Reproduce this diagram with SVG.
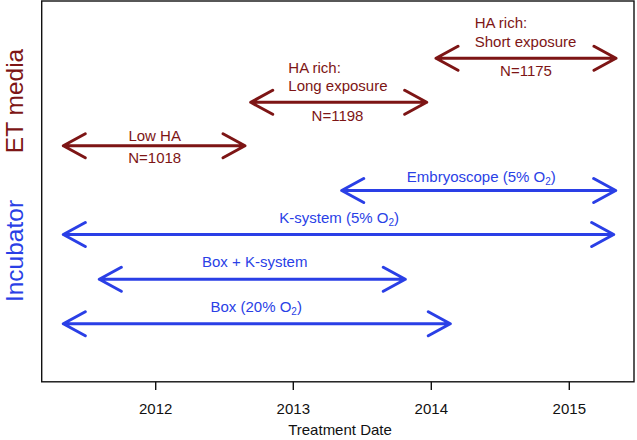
<svg xmlns="http://www.w3.org/2000/svg" width="637" height="440" viewBox="0 0 637 440">
<style>
text{font-family:"Liberation Sans",Arial,sans-serif;font-size:15px}
.r{fill:#7d1515}
.b{fill:#2a3fe6}
.ar{fill:none;stroke-width:3;stroke-linecap:round;stroke-linejoin:round}
.ar.r{stroke:#7d1515;fill:none}
.ar.b{stroke:#2a3fe6;fill:none}
.ax{fill:none;stroke:#111;stroke-width:1.4}
.tk{fill:#111;text-anchor:middle}
.lab{font-size:24.5px}
.sub{font-size:10px}
</style>
<rect width="637" height="440" fill="#fff"/>
<g id="axes">
<rect class="ax" x="41.7" y="1" width="592.3" height="380.8"/>
<path class="ax" d="M155.7,381.8V390M293.3,381.8V390M431.3,381.8V390M569.3,381.8V390"/>
<text class="tk" x="155.7" y="413.5">2012</text>
<text class="tk" x="293.3" y="413.5">2013</text>
<text class="tk" x="431.3" y="413.5">2014</text>
<text class="tk" x="569.3" y="413.5">2015</text>
<text class="tk" x="340" y="434.5">Treatment Date</text>
<text class="lab r" text-anchor="middle" transform="translate(22.5,101) rotate(-90)">ET media</text>
<text class="lab b" text-anchor="middle" transform="translate(22.5,251) rotate(-90)">Incubator</text>
</g>
<g id="connectors">
<path class="ar r" d="M63.3,145.7H245M85.3,133.7L63.3,145.7L85.3,157.7M223,133.7L245,145.7L223,157.7"/>
<path class="ar r" d="M250.7,102.3H426.7M272.7,90.3L250.7,102.3L272.7,114.3M404.7,90.3L426.7,102.3L404.7,114.3"/>
<path class="ar r" d="M436,58.3H616M458,46.3L436,58.3L458,70.3M594,46.3L616,58.3L594,70.3"/>
<path class="ar b" d="M341.7,190.5H615.7M363.7,178.5L341.7,190.5L363.7,202.5M593.7,178.5L615.7,190.5L593.7,202.5"/>
<path class="ar b" d="M63.3,234.5H613.7M85.3,222.5L63.3,234.5L85.3,246.5M591.7,222.5L613.7,234.5L591.7,246.5"/>
<path class="ar b" d="M99.3,279.3H405.3M121.3,267.3L99.3,279.3L121.3,291.3M383.3,267.3L405.3,279.3L383.3,291.3"/>
<path class="ar b" d="M63.3,323.7H450.3M85.3,311.7L63.3,323.7L85.3,335.7M428.3,311.7L450.3,323.7L428.3,335.7"/>
</g>
<g id="low-ha">
<text class="r" x="154.7" y="140.5" text-anchor="middle">Low HA</text>
<text class="r" x="154.7" y="163.3" text-anchor="middle">N=1018</text>
</g>
<g id="long-exposure">
<text class="r" x="288.3" y="73.3">HA rich:</text>
<text class="r" x="288.3" y="90.5">Long exposure</text>
<text class="r" x="337.5" y="121" text-anchor="middle">N=1198</text>
</g>
<g id="short-exposure">
<text class="r" x="474.7" y="28.3">HA rich:</text>
<text class="r" x="474.7" y="46.5">Short exposure</text>
<text class="r" x="526" y="76" text-anchor="middle">N=1175</text>
</g>
<g id="embryoscope">
<text class="b" x="481.3" y="182" text-anchor="middle">Embryoscope (5% O<tspan class="sub" dy="3">2</tspan><tspan dy="-3">)</tspan></text>
</g>
<g id="k-system">
<text class="b" x="339.2" y="223.3" text-anchor="middle">K-system (5% O<tspan class="sub" dy="3">2</tspan><tspan dy="-3">)</tspan></text>
</g>
<g id="box-k-system">
<text class="b" x="254.7" y="266.7" text-anchor="middle">Box + K-system</text>
</g>
<g id="box-20">
<text class="b" x="256.2" y="312.3" text-anchor="middle">Box (20% O<tspan class="sub" dy="3">2</tspan><tspan dy="-3">)</tspan></text>
</g>
</svg>
